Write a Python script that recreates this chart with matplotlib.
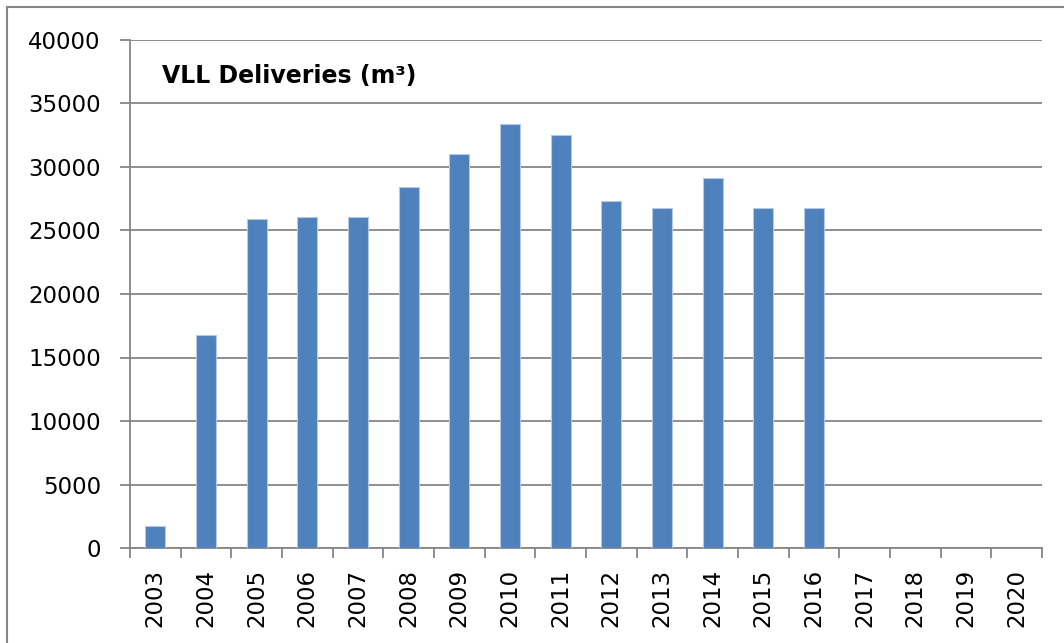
import matplotlib
matplotlib.use("Agg")
import matplotlib.pyplot as plt
from matplotlib.lines import Line2D
import numpy as np

years = [str(y) for y in range(2003, 2021)]
deliveries = [1700, 16800, 25900, 26050, 26100, 28400, 31000, 33350, 32500,
              27300, 26800, 29100, 26800, 26800, np.nan, np.nan, np.nan, np.nan]
y_ticks = [0, 5000, 10000, 15000, 20000, 25000, 30000, 35000, 40000]

grey = "#868686"
plt.rcParams["font.family"] = ["DejaVu Sans"]

fig = plt.figure(figsize=(10.64, 6.43), dpi=100)
ax = fig.add_axes([130 / 1064, 1 - 548 / 643, (1042 - 130) / 1064, (548 - 40) / 643])

x = np.arange(len(years))
ax.bar(x, deliveries, width=0.4, color="#4F81BD", edgecolor="#b4c9e3",
       linewidth=0.8, zorder=3)

ax.set_xlim(-0.5, len(years) - 0.5)
ax.set_ylim(0, 40000)
ax.set_yticks(y_ticks)
ax.set_yticklabels([str(v) for v in y_ticks], fontsize=16.5)
ax.yaxis.grid(True, color=grey, linewidth=1.3, zorder=0)
ax.tick_params(axis="y", length=7, width=1.3, color=grey, pad=14)

# labels at category centres, tick marks on category boundaries
ax.set_xticks(x)
ax.set_xticklabels(years, rotation=90, fontsize=16.5)
ax.set_xticks(np.arange(len(years) + 1) - 0.5, minor=True)
ax.tick_params(axis="x", which="major", length=0, pad=15)
ax.tick_params(axis="x", which="minor", length=7, width=1.3, color=grey)

for s in ["top", "right"]:
    ax.spines[s].set_visible(False)
for s in ["left", "bottom"]:
    ax.spines[s].set_color(grey)
    ax.spines[s].set_linewidth(1.3)

ax.text(0.035, 0.93, "VLL Deliveries (m³)", transform=ax.transAxes,
        fontsize=17, fontweight="bold", va="center", ha="left")

# chart area border (cut at right and bottom)
fig.add_artist(Line2D([7 / 1064, 1], [1 - 7 / 643, 1 - 7 / 643],
                      transform=fig.transFigure, color=grey, linewidth=1.5))
fig.add_artist(Line2D([7 / 1064, 7 / 1064], [0, 1 - 7 / 643],
                      transform=fig.transFigure, color=grey, linewidth=1.5))

fig.savefig("out.png", dpi=100)
